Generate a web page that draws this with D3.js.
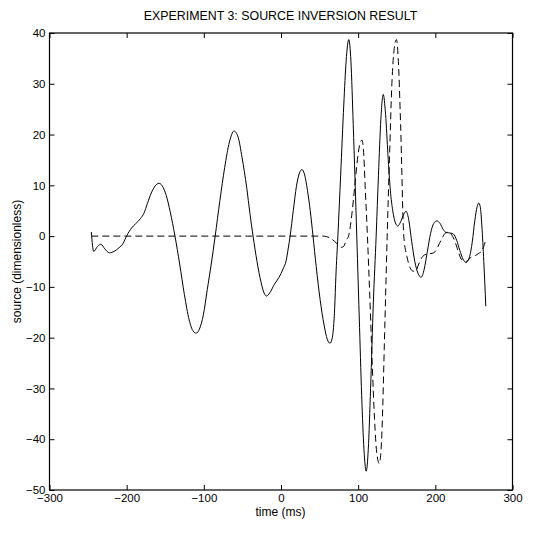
<!DOCTYPE html>
<html><head><meta charset="utf-8">
<script src="https://cdn.jsdelivr.net/npm/d3@7"></script>
<style>
html,body{margin:0;padding:0;background:#fff;}
svg{display:block;font-family:"Liberation Sans",Arial,Helvetica,sans-serif;}
</style></head>
<body><svg id="chart" width="534" height="533"></svg>
<script>
const title = "EXPERIMENT 3: SOURCE INVERSION RESULT";
const xLabel = "time (ms)";
const yLabel = "source (dimensionless)";
const xTicks = [-300, -200, -100, 0, 100, 200, 300];
const yTicks = [-50, -40, -30, -20, -10, 0, 10, 20, 30, 40];

// Inverted source (solid): time ms / value
const invertedTime = [-245.8,-242.7,-237.6,-233.5,-228.4,-222.3,-216.2,-210.0,-204.9,-199.8,-193.7,-188.6,-182.4,-177.3,-173.2,-168.1,-163.0,-157.9,-152.8,-148.7,-143.6,-137.4,-131.3,-125.2,-119.0,-113.9,-109.8,-105.7,-100.6,-95.5,-90.4,-85.3,-79.2,-73.0,-66.9,-60.8,-55.6,-50.5,-44.4,-40.3,-36.2,-31.1,-26.0,-21.9,-18.8,-14.7,-8.6,-2.5,2.6,6.7,9.3,11.8,15.9,20.0,24.1,27.2,30.2,34.3,37.9,41.5,45.6,50.7,55.8,59.9,63.5,66.5,69.6,71.1,73.7,77.3,81.4,84.4,87.8,90.6,93.6,98.2,101.8,104.9,107.9,110.4,113.1,116.1,119.7,123.3,126.3,129.4,132.5,135.5,138.6,141.7,144.8,148.3,151.4,155.0,159.1,162.1,165.2,169.3,173.4,177.5,181.6,185.6,189.7,193.8,197.9,202.0,206.1,210.2,214.3,219.4,223.5,227.6,231.7,235.7,239.8,243.9,248.0,251.1,254.2,256.2,258.2,260.3,262.8,265.4];
const invertedValue = [0.8,-3.0,-2.0,-1.6,-2.5,-3.3,-3.0,-2.3,-1.5,0.1,1.6,2.4,3.4,4.6,6.4,8.5,9.9,10.4,9.6,8.0,4.8,0,-5.5,-11.5,-16.5,-18.7,-19.1,-18.3,-15.5,-10.5,-5.5,0,7,13.5,18.5,20.7,19.5,15.5,9.5,4.5,0,-5,-9,-11.2,-11.8,-11.2,-9.5,-8.1,-6.5,-4.8,-2.5,0,5,9.8,12.5,13.1,12.3,9.0,5,0,-6,-12.5,-17.5,-20.3,-21.1,-20,-14,-8,0,12,26,34.5,38.7,34.5,22,0,-18,-33,-43,-46.3,-42,-30,-13,0,12,23,27.9,24,16,9,5,2.6,2.0,2.8,4.3,4.9,3.5,-1,-5,-7.3,-8.1,-6.5,-3,0.5,2.5,3.0,2.5,1.3,0.7,0.6,0.4,-0.8,-2.8,-4.5,-5.2,-4.3,-1,3,5.8,6.5,5.8,2,-5,-13.8];

// True source (dashed): time ms / value
const trueTime = [-245.8,-145.6,-43.4,53.8,58.9,64.0,69.1,74.2,78.3,81.4,84.4,87.5,91.6,95.7,99.8,102.8,104.9,106.9,109.0,112.0,115.1,118.2,121.2,124.3,127.4,130.4,134.5,137.6,140.7,143.7,146.8,149.6,151.9,155.0,159.1,163.2,167.2,171.3,174.4,178.5,183.6,189.7,195.9,201.0,205.1,209.2,212.2,216.3,220.4,224.5,228.6,232.7,236.8,239.8,243.9,248.0,252.1,256.2,260.3,262.8,265.4];
const trueValue = [0,0,0,0,-0.1,-0.4,-1.0,-1.7,-2.2,-2.0,-0.8,0,4,10,16,18.5,18.9,17,10,0,-12,-25,-36,-43,-44.8,-40,-18,0,16,30,37,38.7,35,22,0,-4,-6.2,-6.9,-6.9,-5.5,-4,-3.5,-3.4,-2.8,-1.5,-0.3,0.5,0.8,0.4,-0.7,-2.5,-4.3,-4.9,-5.0,-4.5,-4.0,-3.8,-3.4,-2.9,-2,-0.6];

const svg = d3.select("#chart");
const mL = 49.5, mR = 512.5, mT = 33, mB = 490;
const x = d3.scaleLinear().domain([-300, 300]).range([mL, mR]);
const y = d3.scaleLinear().domain([-50, 40]).range([mB, mT]);
const fmt = d3.format("d");

const solid = invertedTime.map((t, i) => [t, invertedValue[i]]);
const dashed = trueTime.map((t, i) => [t, trueValue[i]]);
const line = d3.line().x(d => x(d[0])).y(d => y(d[1])).curve(d3.curveMonotoneX);

const plot = svg.append("g");
plot.append("path").datum(dashed).attr("d", line)
  .attr("fill", "none").attr("stroke", "#000").attr("stroke-width", 1)
  .attr("stroke-dasharray", "7,4");
plot.append("path").datum(solid).attr("d", line)
  .attr("fill", "none").attr("stroke", "#000").attr("stroke-width", 1);

// axes (ticks inward on all sides)
const tl = 5;
const styleText = g => g.selectAll("text").attr("font-size", 11.5).attr("fill", "#000")
  .attr("font-family", "Liberation Sans, Arial, sans-serif");
svg.append("g").attr("transform", `translate(0,${mB})`)
  .call(d3.axisBottom(x).tickValues(xTicks).tickSizeInner(-tl).tickSizeOuter(0).tickFormat(fmt))
  .call(g => g.select(".domain").remove())
  .call(styleText)
  .call(g => g.selectAll("text").attr("y", 4).attr("dy", "0.71em"))
  .call(g => g.selectAll("line").attr("stroke", "#000"));
svg.append("g").attr("transform", `translate(0,${mT})`)
  .call(d3.axisTop(x).tickValues(xTicks).tickSizeInner(-tl).tickSizeOuter(0).tickFormat(""))
  .call(g => g.select(".domain").remove())
  .call(g => g.selectAll("line").attr("stroke", "#000"));
svg.append("g").attr("transform", `translate(${mL},0)`)
  .call(d3.axisLeft(y).tickValues(yTicks).tickSizeInner(-tl).tickSizeOuter(0).tickFormat(fmt))
  .call(g => g.select(".domain").remove())
  .call(styleText)
  .call(g => g.selectAll("text").attr("x", -4))
  .call(g => g.selectAll("line").attr("stroke", "#000"));
svg.append("g").attr("transform", `translate(${mR},0)`)
  .call(d3.axisRight(y).tickValues(yTicks).tickSizeInner(-tl).tickSizeOuter(0).tickFormat(""))
  .call(g => g.select(".domain").remove())
  .call(g => g.selectAll("line").attr("stroke", "#000"));

svg.append("rect").attr("x", mL).attr("y", mT).attr("width", mR - mL).attr("height", mB - mT)
  .attr("fill", "none").attr("stroke", "#000").attr("stroke-width", 1.2);

svg.append("text").attr("x", 280.5).attr("y", 20).attr("text-anchor", "middle")
  .attr("font-size", 12.4).attr("fill", "#000").text(title);
svg.append("text").attr("x", 280.5).attr("y", 516).attr("text-anchor", "middle")
  .attr("font-size", 12).attr("fill", "#000").text(xLabel);
svg.append("text").attr("transform", `translate(21,${(mT + mB) / 2}) rotate(-90)`)
  .attr("text-anchor", "middle").attr("font-size", 12).attr("fill", "#000").text(yLabel);
</script></body></html>
